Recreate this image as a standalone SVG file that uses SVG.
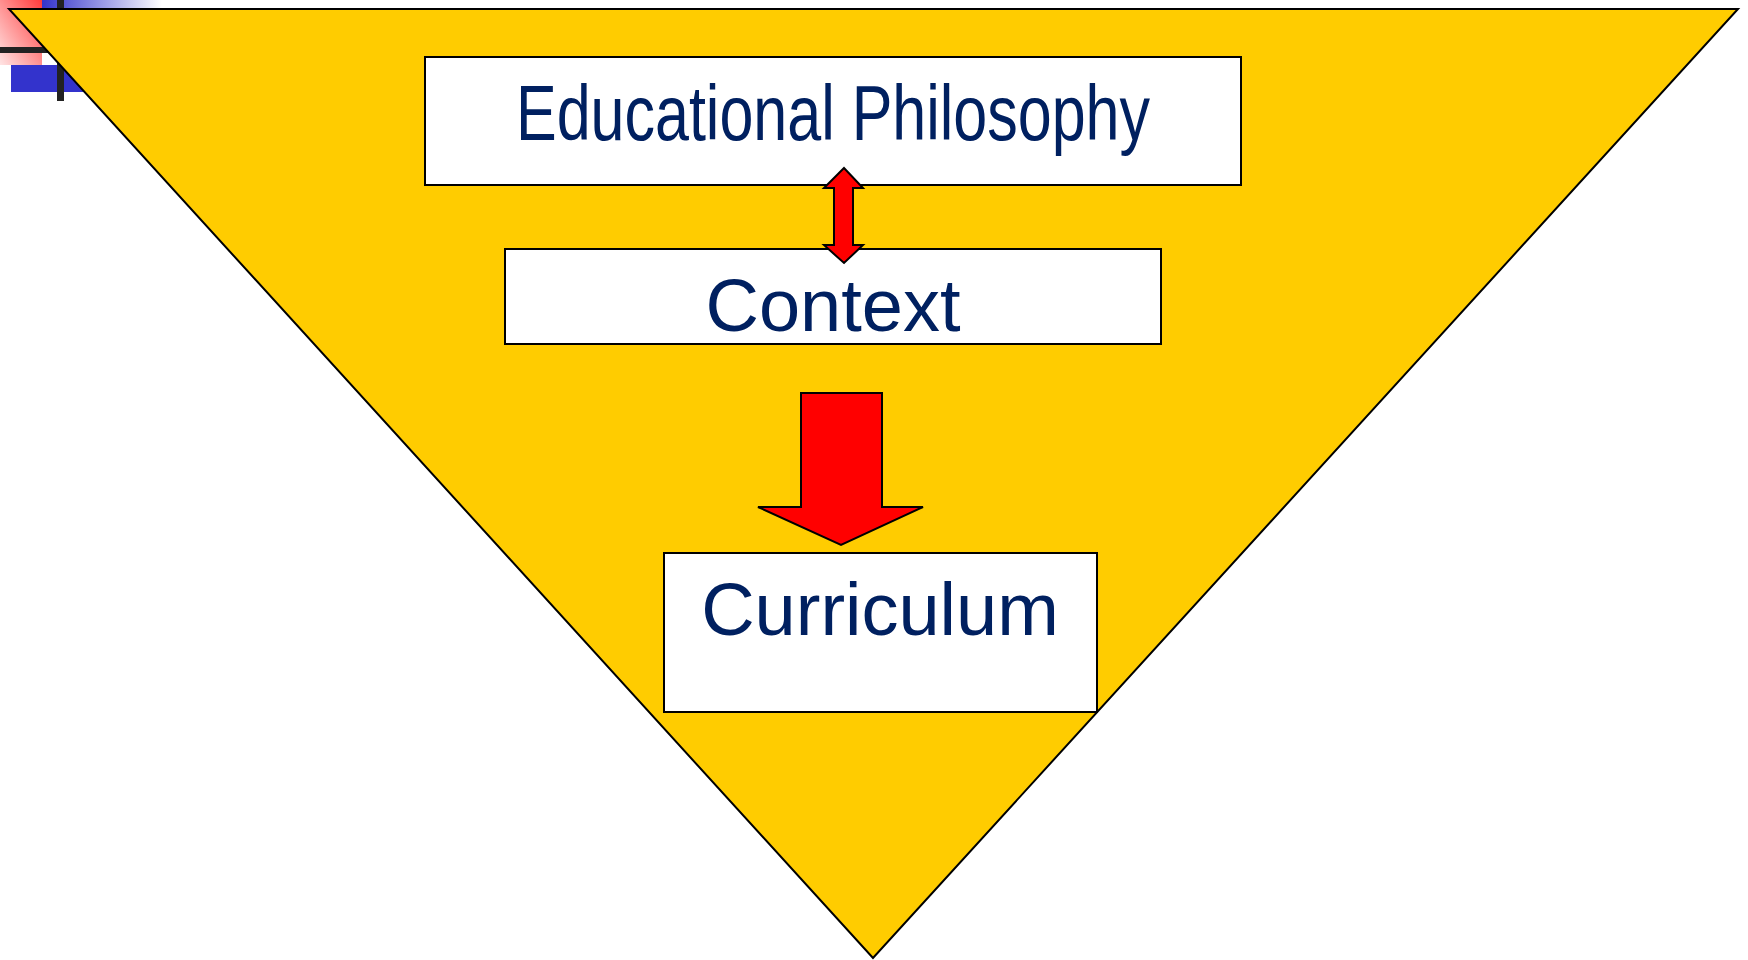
<svg xmlns="http://www.w3.org/2000/svg" width="1748" height="960" viewBox="0 0 1748 960">
<style>
.box{fill:#ffffff;stroke:#000000;stroke-width:2}
.lbl{font-family:"Liberation Sans",Arial,sans-serif;fill:#002060;text-anchor:middle}
.arr{fill:#ff0000;stroke:#000000;stroke-width:2;stroke-linejoin:miter}
</style>
<defs>
<linearGradient id="pink" x1="1" y1="0" x2="0" y2="1">
<stop offset="0" stop-color="#ff3b3b"/>
<stop offset="1" stop-color="#ffe4e4"/>
</linearGradient>
<linearGradient id="bluefade" x1="0" y1="0" x2="1" y2="0">
<stop offset="0" stop-color="#3333cc"/>
<stop offset="1" stop-color="#ffffff"/>
</linearGradient>
</defs>
<g id="decoration">
<rect x="0" y="0" width="42" height="65" fill="url(#pink)"/>
<rect x="42" y="0" width="120" height="8" fill="url(#bluefade)"/>
<rect x="11" y="65" width="90" height="27" fill="#3333cc"/>
<rect x="0" y="47" width="80" height="6" fill="#222222"/>
<rect x="57" y="0" width="7" height="101" fill="#222222"/>
</g>
<g id="triangle">
<polygon points="9,9 1738,9 873,958" fill="#ffcc00" stroke="#000000" stroke-width="2"/>
</g>
<g id="node-philosophy">
<rect class="box" x="425" y="57" width="816" height="128"/>
<text class="lbl" x="833" y="140" font-size="78" textLength="634" lengthAdjust="spacingAndGlyphs">Educational Philosophy</text>
</g>
<g id="node-context">
<rect class="box" x="505" y="249" width="656" height="95"/>
<text class="lbl" x="833" y="331" font-size="74">Context</text>
</g>
<g id="node-curriculum">
<rect class="box" x="664" y="553" width="433" height="159"/>
<text class="lbl" x="880" y="635" font-size="74">Curriculum</text>
</g>
<g id="connectors">
<polygon class="arr" points="844,168 863,188 853,188 853,245 863,245 844,263 824,245 834,245 834,188 824,188"/>
<polygon class="arr" points="801,393 882,393 882,507 923,507 841,545 758,507 801,507"/>
</g>
</svg>
